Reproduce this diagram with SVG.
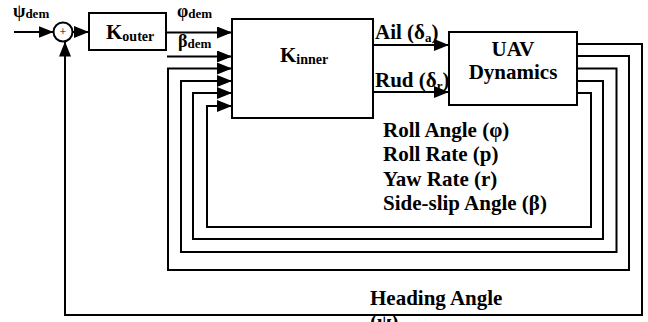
<svg xmlns="http://www.w3.org/2000/svg" width="648" height="322" viewBox="0 0 648 322">
<style>
.ln{fill:none;stroke:#000;stroke-width:2}
.bx{fill:#fff;stroke:#000;stroke-width:2}
text{font-family:"Liberation Serif","Times New Roman",serif;font-weight:bold;fill:#000}
.lbl{font-size:21px}
.sub{font-size:13px}
</style>
<defs>
<marker id="ah" markerUnits="userSpaceOnUse" markerWidth="15" markerHeight="12" refX="15" refY="6" orient="auto"><path d="M0,0L15,6L0,12z" fill="#000"/></marker>
</defs>
<g id="connectors">
<path class="ln" d="M14,32H53.5" marker-end="url(#ah)"/>
<path class="ln" d="M72.5,32H89" marker-end="url(#ah)"/>
<path class="ln" d="M166,32.5H232" marker-end="url(#ah)"/>
<path class="ln" d="M167,56.5H232" marker-end="url(#ah)"/>
<path class="ln" d="M577,56H629V270H168V68.5H232" marker-end="url(#ah)"/>
<path class="ln" d="M577,68.5H616.5V252H181V81H232" marker-end="url(#ah)"/>
<path class="ln" d="M577,81H603V239H193V93H232" marker-end="url(#ah)"/>
<path class="ln" d="M577,93H591V227H207V106H232" marker-end="url(#ah)"/>
<path class="ln" d="M577,44H642V315H65V41.5" marker-end="url(#ah)"/>
<path class="ln" d="M373,45H449" marker-end="url(#ah)"/>
<path class="ln" d="M373,92H449" marker-end="url(#ah)"/>
</g>
<g id="sum">
<circle cx="63" cy="32" r="9.5" class="bx"/>
<text x="63" y="36" text-anchor="middle" style="font-size:12px;font-weight:normal">+</text>
</g>
<g id="kouter">
<rect class="bx" x="89" y="13" width="77" height="37"/>
<text x="106" y="39" style="font-size:21px">K<tspan style="font-size:14px" dy="2">outer</tspan></text>
</g>
<g id="kinner">
<rect class="bx" x="232" y="19" width="141" height="99"/>
<text x="280" y="62" style="font-size:21px">K<tspan style="font-size:14px" dy="2">inner</tspan></text>
</g>
<g id="uav">
<rect class="bx" x="449" y="32" width="128" height="73"/>
<text x="513" y="56" text-anchor="middle" class="lbl">UAV</text>
<text x="513" y="79" text-anchor="middle" class="lbl">Dynamics</text>
</g>
<g id="labels">
<text x="13" y="17" style="font-size:18px">ψ<tspan class="sub" dy="1">dem</tspan></text>
<text x="177" y="17" style="font-size:18px">φ<tspan class="sub" dy="1">dem</tspan></text>
<text x="178" y="47" style="font-size:18px">β<tspan class="sub" dy="1">dem</tspan></text>
<text x="375" y="39" class="lbl">Ail (δ<tspan class="sub" dy="3">a</tspan><tspan dy="-3">)</tspan></text>
<text x="375" y="87" class="lbl">Rud (δ<tspan class="sub" dy="3">r</tspan><tspan dy="-3">)</tspan></text>
<text x="383" y="137" class="lbl">Roll Angle (φ)</text>
<text x="383" y="161" class="lbl">Roll Rate (p)</text>
<text x="383" y="186" class="lbl">Yaw Rate (r)</text>
<text x="383" y="210" class="lbl">Side-slip Angle (β)</text>
<text x="370" y="305" class="lbl">Heading Angle</text>
<text x="370" y="329" class="lbl">(ψ)</text>
</g>
</svg>
